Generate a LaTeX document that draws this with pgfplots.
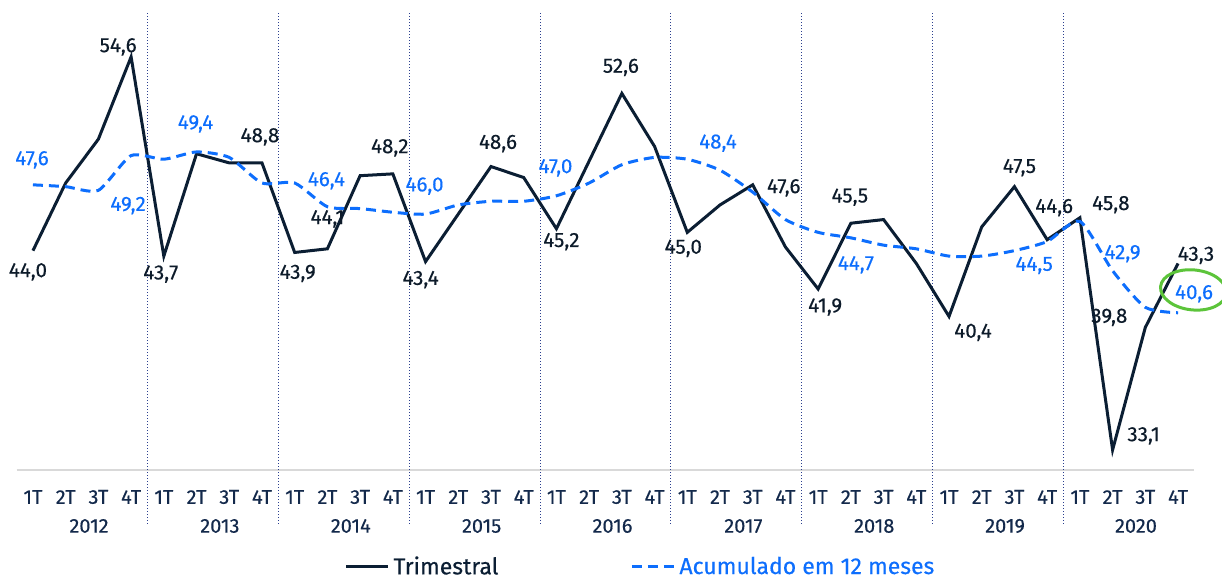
\documentclass[border=0pt]{standalone}
\usepackage{fontspec}
\setmainfont{Fira Sans}[FakeBold=0.35]
\usepackage{pgfplots}
\pgfplotsset{compat=1.18}
\usepackage{pgfplotstable}
\definecolor{navy}{HTML}{0B1E33}
\definecolor{lblk}{HTML}{0D1B2A}
\definecolor{bluec}{HTML}{0D6EFD}
\definecolor{tickc}{HTML}{13294B}
\definecolor{sepc}{HTML}{2B3F8F}
\definecolor{gridgray}{HTML}{D9D9D9}
\definecolor{greenc}{HTML}{5CC43A}

\pgfplotstableread{
i v
0 44.0
1 47.7
2 50.1
3 54.6
4 43.7
5 49.3
6 48.8
7 48.8
8 43.9
9 44.1
10 48.1
11 48.2
12 43.4
13 46.0
14 48.6
15 48.0
16 45.2
17 48.9
18 52.6
19 49.7
20 45.0
21 46.5
22 47.6
23 44.2
24 41.9
25 45.5
26 45.7
27 43.3
28 40.4
29 45.3
30 47.5
31 44.6
32 45.8
33 33.1
34 39.8
35 43.3
}\trim

\pgfplotstableread{
i v
0 47.6
1 47.5
2 47.3
3 49.2
4 49.0
5 49.4
6 49.1
7 47.7
8 47.7
9 46.4
10 46.3
11 46.1
12 46.0
13 46.5
14 46.7
15 46.7
16 47.0
17 47.7
18 48.7
19 49.1
20 49.0
21 48.4
22 47.2
23 45.7
24 45.0
25 44.7
26 44.3
27 44.1
28 43.7
29 43.7
30 44.0
31 44.5
32 45.6
33 42.9
34 40.9
35 40.6
}\acum

\begin{document}
\begin{tikzpicture}[font=\fontsize{10.3}{12}\selectfont]
\path[use as bounding box] (-8.3pt,-56.5pt) rectangle (602.7pt,235pt);
\begin{axis}[
  scale only axis, width=588.9pt, height=228.5pt,
  xmin=-0.5, xmax=35.5, ymin=32, ymax=57,
  axis x line*=bottom, axis y line=none,
  x axis line style={draw=gridgray, line width=0.6pt, -},
  xtick={0,...,35},
  xticklabels={1T,2T,3T,4T,1T,2T,3T,4T,1T,2T,3T,4T,1T,2T,3T,4T,1T,2T,3T,4T,1T,2T,3T,4T,1T,2T,3T,4T,1T,2T,3T,4T,1T,2T,3T,4T},
  major tick length=0pt,
  xticklabel style={anchor=center, yshift=-13.5pt, text=tickc, font=\fontsize{10}{12}\selectfont},
  ytick=\empty,
  clip=false,
  legend style={at={(0.5305,-0.212)}, anchor=center, draw=none, fill=none,
    legend columns=2, font=\fontsize{11.5}{13}\selectfont,
    /tikz/every even column/.append style={column sep=64pt}},
  legend cell align=left,
  legend image code/.code={\draw[#1] (0pt,0pt) -- (21pt,0pt);},
]
% separators
\foreach \s in {3.5,7.5,11.5,15.5,19.5,23.5,27.5,31.5}{
  \edef\tmp{\noexpand\draw[sepc, line width=0.5pt, densely dotted] (axis cs:\s,57) -- ([yshift=-27.5pt]axis cs:\s,32);}
  \tmp
}
\addplot[navy, line width=1.5pt] table[x=i,y=v]{\trim};
\addlegendentry{\textcolor{navy}{Trimestral}}
\addplot[bluec, line width=1.5pt, dash pattern=on 5pt off 3pt, smooth, tension=0.4] table[x=i,y=v]{\acum};
\addlegendentry{\textcolor{bluec}{Acumulado em 12 meses}}

% years
\foreach \k/\y in {0/2012,1/2013,2/2014,3/2015,4/2016,5/2017,6/2018,7/2019,8/2020}{
  \pgfmathsetmacro{\xx}{1.5+4*\k}
  \edef\tmp{\noexpand\node[text=tickc, font=\noexpand\fontsize{10}{12}\noexpand\selectfont] at ([xshift=3.5pt, yshift=-28pt]axis cs:\xx,32) {\y};}
  \tmp
}

% black labels
\begin{scope}[every node/.style={text=lblk, inner sep=0pt}]
\node at ([xshift=-2.5pt,yshift=-10.6pt]axis cs:0,44.0) {44,0};
\node at ([xshift=-6.5pt,yshift=5pt]axis cs:3,54.6) {54,6};
\node at ([xshift=-1.5pt,yshift=-9pt]axis cs:4,43.7) {43,7};
\node at ([xshift=-1pt,yshift=13pt]axis cs:7,48.8) {48,8};
\node at ([xshift=1.5pt,yshift=-10.5pt]axis cs:8,43.9) {43,9};
\node at ([xshift=0pt,yshift=15pt]axis cs:9,44.1) {44,1};
\node at ([xshift=-1.5pt,yshift=13pt]axis cs:11,48.2) {48,2};
\node at ([xshift=-2.5pt,yshift=-9pt]axis cs:12,43.4) {43,4};
\node at ([xshift=3.5pt,yshift=11.5pt]axis cs:14,48.6) {48,6};
\node at ([xshift=2.5pt,yshift=-6.5pt]axis cs:16,45.2) {45,2};
\node at ([xshift=-0.5pt,yshift=13pt]axis cs:18,52.6) {52,6};
\node at ([xshift=-2pt,yshift=-8pt]axis cs:20,45.0) {45,0};
\node at ([xshift=15.5pt,yshift=-1.5pt]axis cs:22,47.6) {47,6};
\node at ([xshift=3.5pt,yshift=-9pt]axis cs:24,41.9) {41,9};
\node at ([xshift=-0.5pt,yshift=13pt]axis cs:25,45.5) {45,5};
\node at ([xshift=12pt,yshift=-8pt]axis cs:28,40.4) {40,4};
\node at ([xshift=2.5pt,yshift=9.5pt]axis cs:30,47.5) {47,5};
\node at ([xshift=3.5pt,yshift=16pt]axis cs:31,44.6) {44,6};
\node at ([xshift=15.5pt,yshift=6.5pt]axis cs:32,45.8) {45,8};
\node at ([xshift=15.5pt,yshift=7pt]axis cs:33,33.1) {33,1};
\node at ([xshift=-18pt,yshift=5pt]axis cs:34,39.8) {39,8};
\node at ([xshift=9pt,yshift=4pt]axis cs:35,43.3) {43,3};
\end{scope}
% blue labels
\begin{scope}[every node/.style={text=bluec, inner sep=0pt}]
\node at ([xshift=-0.5pt,yshift=12.5pt]axis cs:0,47.6) {47,6};
\node at ([xshift=-1.5pt,yshift=-25pt]axis cs:3,49.2) {49,2};
\node at ([xshift=-0.5pt,yshift=14pt]axis cs:5,49.4) {49,4};
\node at ([xshift=-0.5pt,yshift=13pt]axis cs:9,46.4) {46,4};
\node at ([xshift=-0.5pt,yshift=14pt]axis cs:12,46.0) {46,0};
\node at ([xshift=-0.5pt,yshift=14pt]axis cs:16,47.0) {47,0};
\node at ([xshift=-1pt,yshift=13.5pt]axis cs:21,48.4) {48,4};
\node at ([xshift=2.5pt,yshift=-13.5pt]axis cs:25,44.7) {44,7};
\node at ([xshift=-6.5pt,yshift=-12pt]axis cs:31,44.5) {44,5};
\node at ([xshift=5pt,yshift=8.5pt]axis cs:33,42.9) {42,9};
\node at ([xshift=8pt,yshift=9.5pt]axis cs:35,40.6) {40,6};
\end{scope}
\draw[greenc, line width=1.5pt] (axis cs:35.47,41.85) ellipse [x radius=16.5pt, y radius=10pt, rotate=-6];
\end{axis}
\end{tikzpicture}
\end{document}
